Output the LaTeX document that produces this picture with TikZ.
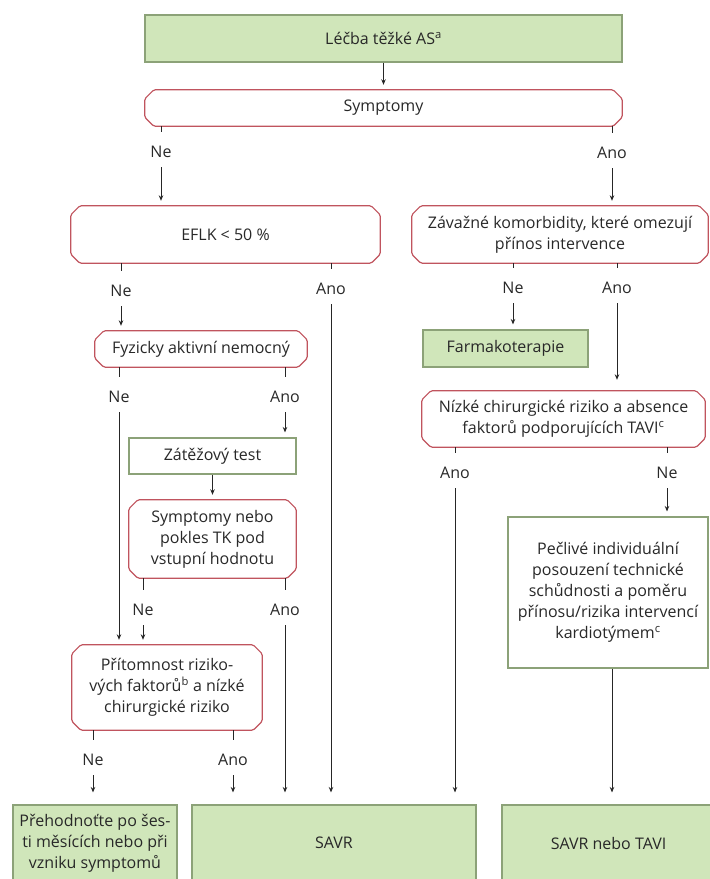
\documentclass[tikz,border=0pt]{standalone}
\usepackage{fontspec}
\setmainfont{Open Sans}
\usetikzlibrary{arrows.meta}
\definecolor{gfill}{RGB}{208,230,186}
\definecolor{gline}{RGB}{140,162,120}
\definecolor{rline}{RGB}{192,84,94}
\definecolor{txt}{RGB}{40,40,40}
\newcommand{\decoutline}[1]{%
 \draw[rline, line width=1.2pt, rounded corners=1.5pt]
 ([xshift=9pt]#1.north west) -- ([xshift=-9pt]#1.north east) -- ([yshift=-9pt]#1.north east) --
 ([yshift=9pt]#1.south east) -- ([xshift=-9pt]#1.south east) -- ([xshift=9pt]#1.south west) --
 ([yshift=9pt]#1.south west) -- ([yshift=-9pt]#1.north west) -- cycle;}
\tikzset{
 box/.style={inner sep=0pt, align=center, font=\fontsize{16pt}{21pt}\selectfont, text=txt},
 greenbox/.style={box, draw=gline, fill=gfill, line width=1.1pt},
 whitebox/.style={box, draw=gline, fill=white, line width=1.1pt},
 decbox/.style={box},
 lab/.style={inner sep=0pt, minimum height=30pt, font=\fontsize{16pt}{21pt}\selectfont, text=txt},
 conn/.style={draw=black!85, line width=0.9pt},
 arr/.style={conn, -{Stealth[length=5.5pt,width=4.5pt]}, shorten >=5pt},
}
\begin{document}
\begin{tikzpicture}[x=1pt,y=-1pt]
\useasboundingbox (0,0) rectangle (710,879);
% boxes
\node[greenbox, minimum width=477pt, minimum height=47pt] (top) at (383.5,38.5) {Léčba těžké AS\textsuperscript{a}};
\node[decbox, minimum width=477pt, minimum height=36pt] (symp) at (383.5,108) {Symptomy};
\node[decbox, minimum width=309pt, minimum height=57pt] (eflk) at (225.5,234.5) {EFLK < 50 \%};
\node[decbox, minimum width=296pt, minimum height=57pt] (zav) at (560,234.5) {Závažné komorbidity, které omezují\\přínos intervence};
\node[decbox, minimum width=212pt, minimum height=36pt] (fyz) at (201,349) {Fyzicky aktivní nemocný};
\node[greenbox, minimum width=165pt, minimum height=37pt] (farm) at (505.5,348.5) {Farmakoterapie};
\node[decbox, minimum width=283pt, minimum height=56pt] (nizke) at (563.5,419) {Nízké chirurgické riziko a absence\\faktorů podporujících TAVI\textsuperscript{c}};
\node[whitebox, minimum width=167pt, minimum height=36pt] (zat) at (212.5,456) {Zátěžový test};
\node[decbox, minimum width=167pt, minimum height=78pt] (sympneb) at (212.5,539) {Symptomy nebo\\pokles TK pod\\vstupní hodnotu};
\node[whitebox, minimum width=200pt, minimum height=151pt] (pecl) at (608,592.5) {Pečlivé individuální\\posouzení technické\\schůdnosti a poměru\\přínosu/rizika intervencí\\kardiotýmem\textsuperscript{c}};
\node[decbox, minimum width=190pt, minimum height=85pt] (prit) at (167,687.5) {Přítomnost riziko-\\vých faktorů\textsuperscript{b} a nízké\\chirurgické riziko};
\node[greenbox, minimum width=164pt, minimum height=76pt] (b1) at (95,843) {Přehodnoťte po šes-\\ti měsících nebo při\\vzniku symptomů};
\node[greenbox, minimum width=284pt, minimum height=76pt] (savr) at (334,843) {SAVR};
\node[greenbox, minimum width=213pt, minimum height=76pt] (b3) at (608.5,843) {SAVR nebo TAVI};
\foreach \n in {symp,eflk,zav,fyz,nizke,sympneb,prit} {\decoutline{\n}}
% labels
\node[lab] (symNe) at (161,152) {Ne};
\node[lab] (symAno) at (612,153) {Ano};
\node[lab] (eflkNe) at (121,291) {Ne};
\node[lab] (eflkAno) at (331,289) {Ano};
\node[lab] (zavNe) at (513,288) {Ne};
\node[lab] (zavAno) at (617,288) {Ano};
\node[lab] (fyzNe) at (119,397) {Ne};
\node[lab] (fyzAno) at (285,397) {Ano};
\node[lab] (nizAno) at (455,473) {Ano};
\node[lab] (nizNe) at (667,473) {Ne};
\node[lab] (snNe) at (143,610) {Ne};
\node[lab] (snAno) at (285,610) {Ano};
\node[lab] (pNe) at (93,760) {Ne};
\node[lab] (pAno) at (233,760) {Ano};
% connectors
\draw[arr] (top.south) -- (symp.north);
\foreach \b/\l in {symp/symNe, symp/symAno, eflk/eflkNe, eflk/eflkAno, zav/zavNe, zav/zavAno,
 fyz/fyzNe, fyz/fyzAno, nizke/nizAno, nizke/nizNe, sympneb/snNe, sympneb/snAno, prit/pNe, prit/pAno}
 {\draw[conn] (\b.south -| \l) -- ([yshift=5pt]\l.north);}
\draw[arr] (symNe.south) -- (eflk.north -| symNe);
\draw[arr] (symAno.south) -- (zav.north -| symAno);
\draw[arr] (eflkNe.south) -- (fyz.north -| eflkNe);
\draw[arr, shorten >=12pt] (eflkAno.south) -- (savr.north -| eflkAno);
\draw[arr] (zavNe.south) -- (farm.north -| zavNe);
\draw[arr, shorten >=11pt] (zavAno.south) -- (nizke.north -| zavAno);
\draw[arr] (fyzNe.south) -- (prit.north -| fyzNe);
\draw[arr] (fyzAno.south) -- (zat.north -| fyzAno);
\draw[arr] (zat.south) -- (sympneb.north);
\draw[arr] (snNe.south) -- (prit.north -| snNe);
\draw[arr, shorten >=12pt] (snAno.south) -- (savr.north -| snAno);
\draw[arr, shorten >=12pt] (nizAno.south) -- (savr.north -| nizAno);
\draw[arr] (nizNe.south) -- (pecl.north -| nizNe);
\draw[arr, shorten >=12pt] ([xshift=4pt]pecl.south) -- ([xshift=4pt]pecl.south |- b3.north);
\draw[arr, shorten >=12pt] (pNe.south) -- (b1.north -| pNe);
\draw[arr, shorten >=12pt] (pAno.south) -- (savr.north -| pAno);
\end{tikzpicture}
\end{document}
